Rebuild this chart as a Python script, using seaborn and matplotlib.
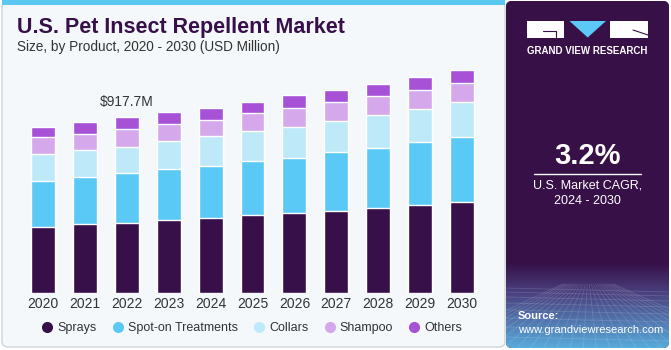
import numpy as np
import pandas as pd
import matplotlib
matplotlib.use("Agg")
import matplotlib.pyplot as plt
from matplotlib.patches import FancyBboxPatch, Rectangle, Polygon
from matplotlib.lines import Line2D
from matplotlib.colors import to_rgb
import seaborn as sns

# data (USD Million)
years = ['2020', '2021', '2022', '2023', '2024', '2025', '2026', '2027', '2028', '2029', '2030']
sprays = [346, 359, 366, 380, 392, 406, 416, 430, 444, 458, 477]
spot_on = [239, 247, 258, 268, 272, 282, 289, 306, 313, 330, 338]
collars = [139, 141, 139, 145, 153, 157, 162, 160, 171, 172, 181]
shampoo = [89, 85, 94, 87, 87, 92, 96, 99, 99, 101, 102]
others = [52, 60, 61, 63, 64, 60, 70, 66, 66, 65, 66]
segments = ['Sprays', 'Spot-on Treatments', 'Collars', 'Shampoo', 'Others']
seg_colors = ['#37104a', '#5bc9f5', '#bde9f9', '#d4a8eb', '#a651d6']
label_year = '2022'
label_text = '$917.7M'

sns.set_theme(style='white')
plt.rcParams['font.family'] = ['Liberation Sans', 'DejaVu Sans']

df = pd.DataFrame({'year': years, 'Sprays': sprays, 'Spot-on Treatments': spot_on,
                   'Collars': collars, 'Shampoo': shampoo, 'Others': others})
cum = df[segments].cumsum(axis=1)
cum['year'] = df['year']

W, H = 671, 350
fig = plt.figure(figsize=(W / 100, H / 100), dpi=100, facecolor='white')

# background layer in pixel coords
bg = fig.add_axes([0, 0, 1, 1], zorder=0)
bg.set_xlim(0, W)
bg.set_ylim(H, 0)
bg.axis('off')

left_panel = FancyBboxPatch((2, 2), 503, 345, boxstyle='round,pad=0,rounding_size=6',
                            facecolor='#f4f8fb', edgecolor='#cfd4d9', lw=1.0)
bg.add_patch(left_panel)
bg.add_patch(Rectangle((2, 0), 503, 5, facecolor='#5bc8f0', edgecolor='none'))

# right panel with gradient
panel = FancyBboxPatch((506, 1), 163, 347, boxstyle='round,pad=0,rounding_size=6',
                       facecolor='#371047', edgecolor='none')
bg.add_patch(panel)
stops_y = [0, 262, 292, 348]
stops_c = [to_rgb('#371047'), to_rgb('#371047'), to_rgb('#4a3f7e'), to_rgb('#58acdc')]
yy = np.arange(H)
grad = np.zeros((H, 1, 3))
for ch in range(3):
    grad[:, 0, ch] = np.interp(yy, stops_y, [c[ch] for c in stops_c])
im = bg.imshow(grad, extent=(506, 669, H, 0), aspect='auto', zorder=1)
im.set_clip_path(panel)

# faint perspective grid at bottom of panel
for gy in [288, 292, 297, 303, 310, 318, 327, 337, 348]:
    ln, = bg.plot([506, 669], [gy, gy + 4], color='white', alpha=0.14, lw=0.6, zorder=2)
    ln.set_clip_path(panel)
for gx in np.linspace(420, 760, 26):
    ln, = bg.plot([588 + (gx - 588) * 0.15, gx], [284, 350], color='white', alpha=0.14, lw=0.6, zorder=2)
    ln.set_clip_path(panel)

# logo
bg.add_patch(Rectangle((527, 21), 37, 16.5, facecolor='white', edgecolor='none', zorder=3))
bg.plot([543, 556, 556], [31, 31, 37], color='#371047', lw=0.8, zorder=4)
bg.add_patch(Polygon([(569.5, 21), (606, 21), (587.7, 37.5)], closed=True,
                     facecolor='#5bc8f5', edgecolor='none', zorder=3))
bg.add_patch(Rectangle((610, 21), 38, 16.5, facecolor='white', edgecolor='none', zorder=3))
bg.plot([633, 648], [30, 35], color='#371047', lw=0.8, zorder=4)
bg.text(587.5, 51, 'GRAND VIEW RESEARCH', color='white',
        fontsize=7, fontweight='bold', ha='center', va='center', zorder=3)

bg.text(587.5, 156, '3.2%', color='white', fontsize=21, fontweight='bold',
        ha='center', va='center', zorder=3)
bg.plot([534, 641], [173.5, 173.5], color='white', lw=1.0, zorder=3)
bg.text(587.5, 186, 'U.S. Market CAGR,', color='white', fontsize=9,
        ha='center', va='center', zorder=3)
bg.text(587.5, 201, '2024 - 2030', color='white', fontsize=9,
        ha='center', va='center', zorder=3)
bg.text(518, 316, 'Source:', color='white', fontsize=8, fontweight='bold',
        ha='left', va='center', zorder=3)
bg.text(518, 330, 'www.grandviewresearch.com', color='white', fontsize=8,
        ha='left', va='center', zorder=3)

# titles
bg.text(17, 28, 'U.S. Pet Insect Repellent Market', color='#37104a', fontsize=15.5,
        fontweight='bold', ha='left', va='center')
bg.text(17, 47, 'Size, by Product, 2020 - 2030 (USD Million)', color='#333333', fontsize=9.8,
        ha='left', va='center')

# main bar chart
ax = fig.add_axes([22 / W, 57 / H, 461 / W, 233 / H], zorder=1)
ax.patch.set_alpha(0)
for name, color in reversed(list(zip(segments, seg_colors))):
    sns.barplot(data=cum, x='year', y=name, color=color, saturation=1, width=0.57, ax=ax)
ax.set_xlim(-0.5, len(years) - 0.5)
ax.set_ylim(0, 1216)
ax.set_xlabel('')
ax.set_ylabel('')
ax.set_yticks([])
ax.tick_params(axis='x', length=0, pad=3, labelsize=10, labelcolor='#333333')
sns.despine(ax=ax, left=True, bottom=True)

idx = years.index(label_year)
ax.annotate(label_text, (idx, cum['Others'][idx]), xytext=(0, 11), textcoords='offset points',
            ha='center', va='center', fontsize=10, color='#333333')

handles = [Line2D([0], [0], marker='o', linestyle='none', markersize=8,
                  markerfacecolor=c, markeredgecolor='none') for c in seg_colors]
fig.legend(handles, segments, loc='center left', bbox_to_anchor=(31 / W, 1 - 328 / H),
           ncol=5, frameon=False, fontsize=9, handlelength=0.8, handletextpad=0.4,
           columnspacing=1.3, labelcolor='#333333')

fig.savefig('out.png', dpi=100, facecolor='white')
